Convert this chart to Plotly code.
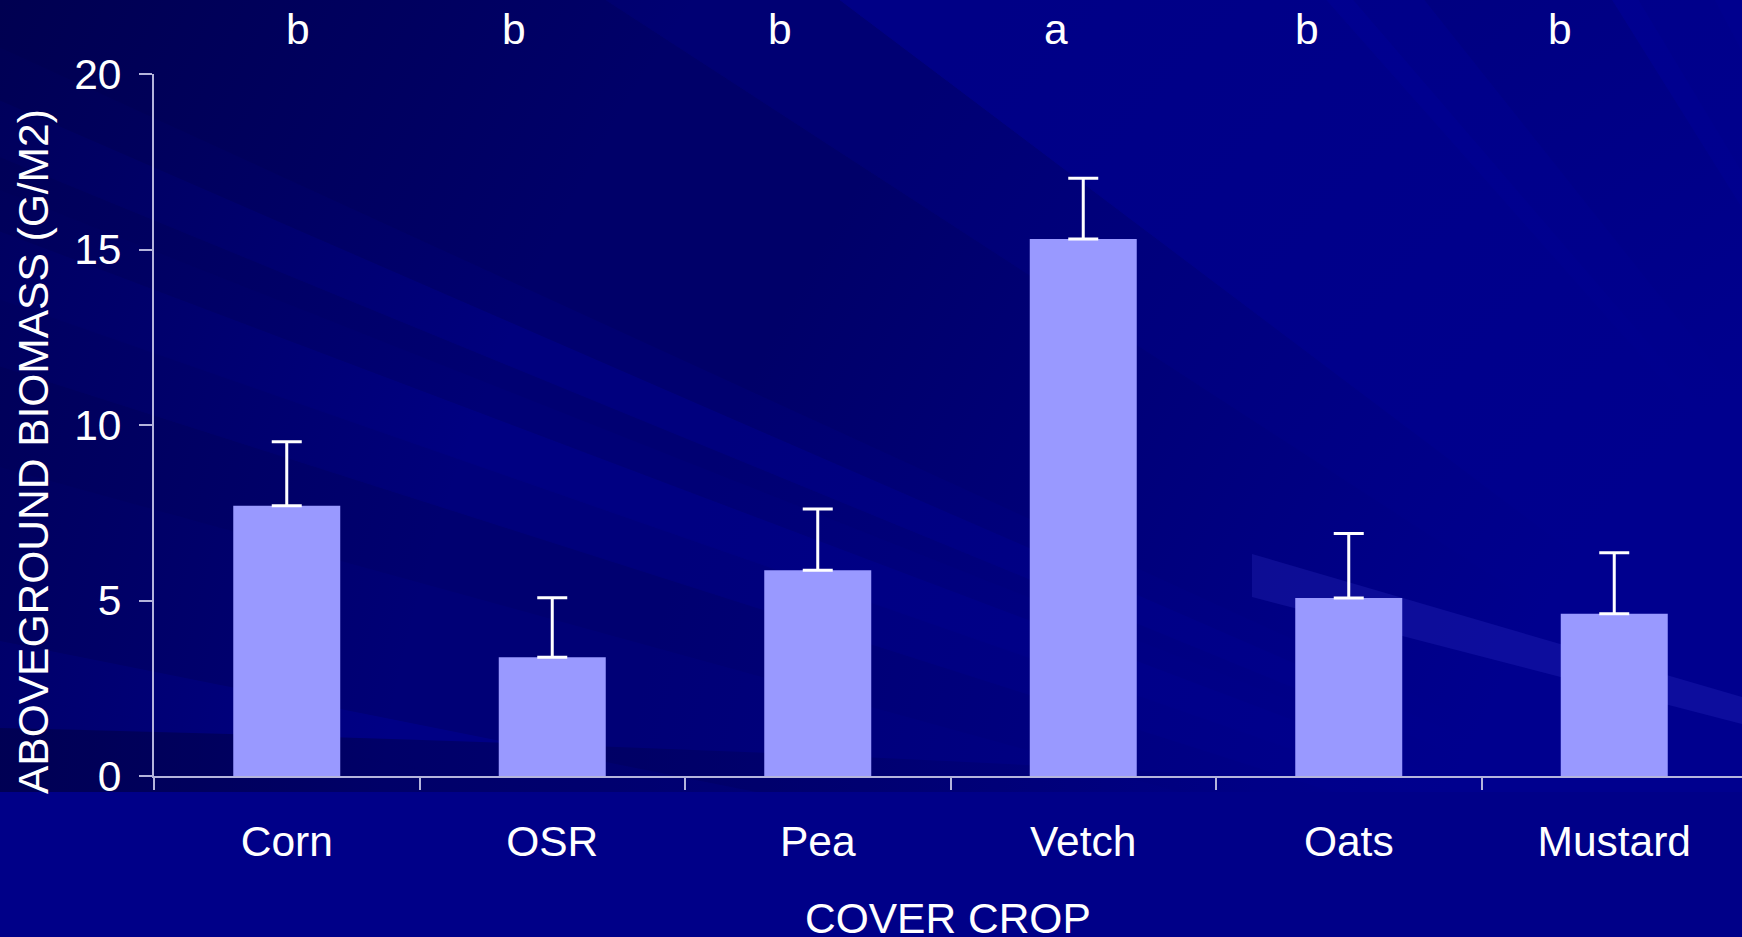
import math
import base64
import plotly.graph_objects as go

# ---- data ----
crops = ["Corn", "OSR", "Pea", "Vetch", "Oats", "Mustard"]
biomass = [7.7, 3.38, 5.86, 15.3, 5.07, 4.62]
se = [1.82, 1.7, 1.75, 1.73, 1.84, 1.74]
letters = ["b", "b", "b", "a", "b", "b"]
y_ticks = [0, 5, 10, 15, 20]

# ---- layout constants (pixels of the 1742x937 page) ----
W, H = 1742, 937
L, R, T, B = 154, 0, 74, 161
PW, PH = W - L - R, H - T - B
CAT_PX = 265.5
x_hi = -0.5 + PW / CAT_PX
letter_x = [0.042, 0.856, 1.858, 2.896, 3.843, 4.796]
FONT = "Liberation Sans, Arial, sans-serif"
FS = 42.5


def px(xp, yp):
    """pixel -> paper coords"""
    return (xp - L) / PW, (H - B - yp) / PH


# ---- decorative slide background (SVG, rays fanning from beyond lower-right) ----
OX, OY = 2300, 1100
bands = [  # (angle from, angle to, blue level)
    (0, 10, 0x88), (10, 11.3, 0x88), (11.3, 15.4, 0x70), (15.4, 17.7, 0x66),
    (17.7, 19.2, 0x78), (19.2, 20.7, 0x84), (20.7, 21.6, 0x70), (21.6, 22.3, 0x68),
    (22.3, 23.5, 0x7c), (23.5, 24.6, 0x66), (24.6, 33, 0x5a), (33, 37, 0x6a),
    (37, 48.5, 0x8a), (48.5, 49.3, 0x9a), (49.3, 51.5, 0x8a), (51.5, 58, 0x74),
    (58, 59, 0x9c), (59, 62, 0x8c), (62, 75, 0x98),
]


def ray_pt(a, r=6000):
    return OX - r * math.cos(math.radians(a)), OY - r * math.sin(math.radians(a))


def soften(lv):
    return int(round(0x80 + (lv - 0x80) * 0.6))


parts = [f'<svg xmlns="http://www.w3.org/2000/svg" width="{W}" height="{H}" '
         f'viewBox="0 0 {W} {H}" preserveAspectRatio="none">',
         '<defs>'
         f'<radialGradient id="g" gradientUnits="userSpaceOnUse" cx="{OX}" cy="{OY}" r="1800">'
         '<stop offset="0.5" stop-color="#00008e" stop-opacity="1"/>'
         '<stop offset="0.95" stop-color="#00008e" stop-opacity="0"/></radialGradient>'
         f'<radialGradient id="d" gradientUnits="userSpaceOnUse" cx="{OX}" cy="{OY}" r="2700">'
         '<stop offset="0.72" stop-color="#000040" stop-opacity="0"/>'
         '<stop offset="0.95" stop-color="#000040" stop-opacity="0.6"/></radialGradient>'
         '<linearGradient id="bb" gradientUnits="userSpaceOnUse" x1="0" y1="0" x2="1300" y2="0">'
         '<stop offset="0" stop-color="#00004a" stop-opacity="0.7"/>'
         '<stop offset="1" stop-color="#00004a" stop-opacity="0"/></linearGradient>'
         '</defs>',
         f'<rect width="{W}" height="{H}" fill="#000088"/>']
for a1, a2, lv in bands:
    x1, y1 = ray_pt(a1)
    x2, y2 = ray_pt(a2)
    c = f"#0000{soften(lv):02x}"
    parts.append(f'<path d="M{OX},{OY} L{x1:.1f},{y1:.1f} L{x2:.1f},{y2:.1f} Z" '
                 f'fill="{c}" stroke="{c}" stroke-width="1"/>')
parts.append(f'<circle cx="{OX}" cy="{OY}" r="1800" fill="url(#g)"/>')
parts.append(f'<rect width="{W}" height="{H}" fill="url(#d)"/>')
parts.append('<path d="M0,728 Q700,745 1250,777 L1250,792 L0,792 Z" fill="url(#bb)"/>')
parts.append(f'<rect x="0" y="792" width="{W}" height="{H - 792}" fill="#000088"/>')
parts.append('<path d="M1252,554 L1742,697 L1742,724 L1252,597 Z" fill="#3a3ad8" fill-opacity="0.22"/>')
parts.append('</svg>')
bg_svg = "".join(parts)
bg_src = "data:image/svg+xml;base64," + base64.b64encode(bg_svg.encode()).decode()

fig = go.Figure()
fig.add_trace(go.Bar(
    x=crops, y=biomass, width=0.403,
    marker=dict(color="#9999ff", line=dict(width=0)),
    error_y=dict(type="data", array=se, symmetric=False, arrayminus=[0] * len(se),
                 color="white", thickness=3, width=15),
    hoverinfo="x+y",
))

annotations = []
for xv, lt in zip(letter_x, letters):
    annotations.append(dict(x=xv, y=px(0, 30)[1], xref="x", yref="paper", text=lt,
                            showarrow=False, yanchor="middle",
                            font=dict(family=FONT, size=FS, color="white")))
annotations.append(dict(x=px(33, 0)[0], y=px(0, 452)[1], xref="paper", yref="paper",
                        text="ABOVEGROUND BIOMASS (G/M2)", textangle=-90, showarrow=False,
                        xanchor="center", yanchor="middle",
                        font=dict(family=FONT, size=FS, color="white")))
annotations.append(dict(x=0.5, y=px(0, 918)[1], xref="paper", yref="paper",
                        text="COVER CROP", showarrow=False,
                        xanchor="center", yanchor="middle",
                        font=dict(family=FONT, size=FS, color="white")))

x0p, y0p = px(0, 0)
fig.update_layout(
    width=W, height=H,
    margin=dict(l=L, r=R, t=T, b=B, pad=0),
    paper_bgcolor="#000088",
    plot_bgcolor="rgba(0,0,0,0)",
    showlegend=False,
    images=[dict(source=bg_src, xref="paper", yref="paper", x=x0p, y=y0p,
                 sizex=W / PW, sizey=H / PH, xanchor="left", yanchor="top",
                 sizing="stretch", layer="below")],
    annotations=annotations,
    font=dict(family=FONT, size=FS, color="white"),
)
fig.update_xaxes(
    range=[-0.5, x_hi], showgrid=False, zeroline=False,
    showline=True, linecolor="#b4b4dc", linewidth=2,
    ticks="outside", ticklen=12, tickcolor="#b4b4dc", tickwidth=2,
    tickson="boundaries", ticklabelstandoff=27,
    tickfont=dict(family=FONT, size=FS, color="white"),
)
fig.update_yaxes(
    range=[0, 20], tickvals=y_ticks, showgrid=False, zeroline=False,
    showline=True, linecolor="#b4b4dc", linewidth=2,
    ticks="outside", ticklen=13, tickcolor="#b4b4dc", tickwidth=2,
    ticklabelstandoff=9,
    tickfont=dict(family=FONT, size=FS, color="white"),
)

fig.write_html("out.html", config={"displayModeBar": False},
               post_script="document.body.style.margin='0';document.body.style.overflow='hidden';")
